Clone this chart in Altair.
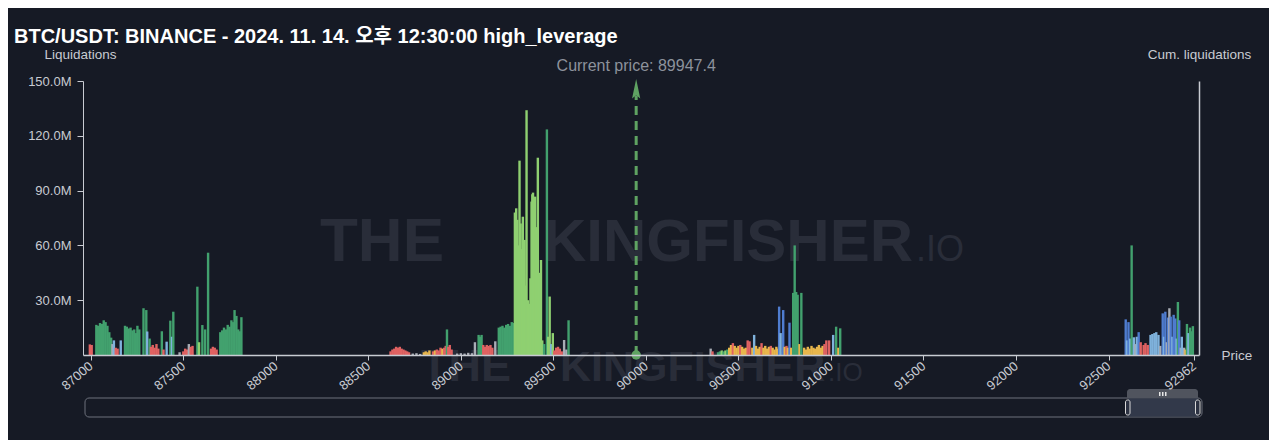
import altair as alt
import pandas as pd

TITLE = "BTC/USDT: BINANCE - 2024. 11. 14. 오후 12:30:00 high_leverage"
CURRENT_PRICE = 89947.4
X_TICKS = [87000, 87500, 88000, 88500, 89000, 89500, 90000, 90500, 91000,
           91500, 92000, 92500, 92962]
Y_TICKS = [30, 60, 90, 120, 150]          # millions
X_DOMAIN = [86985, 92962]
Y_DOMAIN = [0, 150]

KINDS = ["g", "lg", "r", "y", "b", "lb", "gr"]
KIND_COLORS = ["#42a16e", "#8fd071", "#e06262", "#e8b64c", "#4f7dd0", "#7fb2dc", "#a9adb5"]

# (price, liquidations in millions, kind)
left_cluster = [
    (86995, 5.8, "r"), (87005, 5.5, "r"), (87030, 16.5, "g"), (87040, 16.0, "g"),
    (87050, 17.5, "g"), (87060, 17.0, "g"), (87070, 19.0, "g"), (87080, 18.0, "g"),
    (87090, 16.0, "g"), (87100, 12.5, "g"), (87110, 9.5, "g"), (87117, 6.0, "gr"),
    (87125, 8.0, "lb"), (87135, 4.0, "r"), (87145, 3.5, "r"), (87162, 8.0, "lb"),
    (87185, 16.0, "g"), (87195, 15.5, "g"), (87205, 14.5, "g"), (87215, 15.0, "g"),
    (87225, 13.5, "g"), (87235, 14.0, "g"), (87245, 12.0, "g"), (87252, 16.0, "g"),
    (87262, 14.0, "g"), (87285, 25.6, "g"), (87300, 24.6, "g"), (87305, 12.8, "lb"),
    (87318, 9.0, "g"), (87325, 4.5, "r"), (87335, 5.5, "r"), (87345, 4.0, "r"),
    (87355, 6.0, "r"), (87365, 3.5, "r"), (87384, 13.0, "g"), (87393, 3.0, "r"),
    (87410, 7.3, "lb"), (87430, 18.8, "g"), (87439, 10.0, "lb"), (87446, 23.7, "g"),
    (87480, 1.5, "gr"), (87500, 2.0, "r"), (87510, 3.5, "r"), (87520, 3.0, "r"),
    (87530, 6.0, "gr"), (87540, 4.5, "r"), (87550, 5.0, "r"), (87576, 37.4, "g"),
    (87585, 7.0, "lg"), (87603, 16.4, "g"), (87618, 14.0, "g"), (87634, 56.0, "g"),
    (87650, 3.5, "r"), (87660, 4.5, "r"), (87670, 4.0, "r"), (87680, 3.0, "r"),
    (87700, 12.5, "g"), (87710, 13.5, "g"), (87720, 15.0, "g"), (87730, 14.0, "g"),
    (87740, 16.5, "g"), (87750, 15.5, "g"), (87760, 19.0, "g"), (87770, 18.0, "g"),
    (87777, 24.6, "g"), (87787, 21.4, "g"), (87797, 14.0, "g"), (87805, 13.0, "g"),
    (87814, 20.7, "g"),
]

mid_cluster = [
    (88620, 2.0, "r"), (88630, 3.0, "r"), (88640, 3.5, "r"), (88650, 4.5, "r"),
    (88660, 4.0, "r"), (88670, 4.5, "r"), (88680, 3.5, "r"), (88690, 3.0, "r"),
    (88700, 2.5, "r"), (88710, 2.0, "r"), (88720, 1.5, "r"), (88740, 0.8, "gr"),
    (88760, 1.0, "gr"), (88780, 0.6, "gr"), (88800, 1.5, "y"), (88810, 2.0, "y"),
    (88820, 1.5, "y"), (88830, 2.5, "y"), (88850, 2.0, "r"), (88860, 2.5, "y"),
    (88870, 3.0, "r"), (88880, 2.5, "r"), (88890, 4.0, "r"), (88900, 3.5, "y"),
    (88910, 4.0, "r"), (88918, 5.0, "r"), (88925, 14.0, "g"), (88932, 4.5, "r"),
    (88940, 5.5, "r"), (88950, 3.0, "r"), (88980, 0.8, "gr"), (89000, 1.0, "gr"),
    (89020, 0.8, "gr"), (89040, 1.2, "gr"), (89060, 1.0, "gr"), (89076, 7.0, "gr"),
    (89096, 11.0, "g"), (89104, 10.0, "g"), (89112, 11.0, "g"), (89121, 5.5, "r"),
    (89130, 4.5, "r"), (89140, 5.5, "r"), (89150, 5.0, "r"), (89160, 5.5, "r"),
    (89170, 4.0, "r"), (89186, 7.5, "gr"),
]

main_cluster = [
    (89205, 15.0, "g"), (89215, 15.5, "g"), (89225, 16.0, "g"), (89235, 15.0, "g"),
    (89245, 16.5, "g"), (89255, 17.0, "g"), (89265, 16.0, "g"), (89275, 18.0, "g"),
    (89285, 17.5, "g"), (89292, 78.0, "lg"), (89299, 80.3, "lg"), (89305, 74.0, "lg"),
    (89311, 60.0, "lg"), (89317, 106.4, "lg"), (89323, 72.0, "lg"), (89329, 58.0, "lg"),
    (89335, 75.7, "lg"), (89341, 44.0, "lg"), (89344, 63.0, "lg"), (89350, 38.0, "lg"),
    (89355, 134.0, "lg"), (89362, 30.0, "lg"), (89368, 28.0, "lg"), (89376, 42.0, "lg"),
    (89382, 84.0, "lg"), (89386, 88.0, "lg"), (89390, 88.9, "lg"), (89396, 80.0, "lg"),
    (89401, 86.7, "lg"), (89406, 70.0, "lg"), (89411, 66.0, "lg"), (89416, 108.0, "lg"),
    (89422, 45.0, "lg"), (89428, 30.0, "lg"), (89433, 52.0, "lg"), (89440, 8.0, "lg"),
    (89450, 6.0, "g"), (89465, 123.5, "g"), (89472, 10.0, "lg"), (89480, 32.0, "lg"),
    (89488, 6.0, "lb"), (89497, 12.0, "lg"), (89505, 2.5, "r"), (89515, 4.0, "r"),
    (89525, 4.5, "r"), (89535, 3.5, "r"), (89545, 2.0, "r"), (89558, 8.2, "gr"),
    (89570, 3.0, "gr"), (89582, 19.0, "g"),
]

right_mid_cluster = [
    (90350, 3.5, "gr"), (90360, 2.0, "r"), (90390, 1.5, "g"), (90400, 2.0, "g"),
    (90410, 2.5, "lg"), (90420, 2.0, "g"), (90430, 2.5, "lg"), (90440, 3.0, "g"),
    (90450, 4.0, "y"), (90460, 5.5, "y"), (90470, 6.5, "r"), (90480, 5.0, "y"),
    (90490, 4.0, "y"), (90500, 5.0, "y"), (90510, 5.5, "r"), (90520, 4.5, "y"),
    (90530, 3.5, "y"), (90540, 4.0, "y"), (90550, 8.0, "r"), (90560, 7.5, "r"),
    (90575, 4.0, "y"), (90585, 11.0, "lb"), (90595, 5.0, "y"), (90605, 3.5, "y"),
    (90615, 4.5, "y"), (90625, 6.5, "r"), (90635, 4.0, "y"), (90645, 5.0, "y"),
    (90655, 3.5, "y"), (90665, 4.5, "y"), (90675, 5.0, "r"), (90685, 4.0, "y"),
    (90695, 3.0, "y"), (90705, 4.5, "y"), (90713, 3.5, "y"), (90720, 26.5, "b"),
    (90728, 12.0, "lb"), (90742, 24.6, "b"), (90750, 4.5, "y"), (90760, 5.0, "r"),
    (90767, 4.0, "y"), (90776, 17.7, "b"), (90785, 4.0, "y"), (90796, 34.0, "g"),
    (90804, 60.0, "g"), (90812, 34.5, "g"), (90820, 33.0, "g"), (90830, 6.0, "y"),
    (90840, 34.0, "g"), (90855, 4.0, "y"), (90865, 3.0, "y"), (90875, 4.5, "y"),
    (90885, 3.5, "y"), (90895, 5.0, "y"), (90905, 4.0, "y"), (90915, 3.5, "y"),
    (90925, 4.5, "y"), (90935, 5.5, "y"), (90945, 4.0, "y"), (90955, 5.0, "y"),
    (90965, 6.0, "r"), (90975, 8.0, "r"), (90990, 8.0, "r"), (91012, 11.0, "lb"),
    (91028, 15.5, "g"), (91040, 4.0, "y"), (91050, 14.6, "g"),
]

far_right_cluster = [
    (92593, 19.5, "b"), (92600, 8.0, "lb"), (92608, 18.0, "b"), (92617, 9.0, "lb"),
    (92625, 60.0, "g"), (92637, 9.7, "lb"), (92645, 6.0, "gr"), (92653, 10.0, "lb"),
    (92663, 12.5, "b"), (92674, 7.0, "r"), (92690, 5.5, "r"), (92700, 6.5, "r"),
    (92712, 5.5, "r"), (92727, 11.0, "lb"), (92737, 11.5, "lb"), (92748, 12.0, "lb"),
    (92758, 12.5, "lb"), (92770, 11.0, "lb"), (92780, 5.0, "gr"), (92793, 22.8, "b"),
    (92800, 10.0, "lb"), (92807, 23.7, "b"), (92815, 7.0, "gr"), (92822, 20.5, "b"),
    (92829, 25.6, "gr"), (92836, 21.0, "b"), (92845, 10.0, "lb"), (92852, 22.0, "b"),
    (92861, 20.0, "b"), (92868, 9.0, "lb"), (92875, 29.0, "g"), (92882, 19.0, "b"),
    (92890, 4.0, "gr"), (92896, 10.0, "lb"), (92909, 4.0, "gr"), (92916, 3.0, "y"),
    (92924, 17.0, "g"), (92932, 12.0, "lb"), (92941, 15.0, "g"), (92948, 13.0, "g"),
    (92956, 15.8, "g"),
]

rows = left_cluster + mid_cluster + main_cluster + right_mid_cluster + far_right_cluster
bars_df = pd.DataFrame(rows, columns=["price", "liq", "kind"])

BG = "#161a25"
AXIS_C = "#c8cbd2"
FONT = "Liberation Sans, Arial, Noto Sans CJK KR"
WM_FONT = "Liberation Sans"
WM_C = "#292d39"

W, H = 1116, 274

xscale = alt.Scale(domain=X_DOMAIN, nice=False, zero=False)
yscale = alt.Scale(domain=Y_DOMAIN, nice=False)

x_axis = alt.Axis(values=X_TICKS, format="d", labelAngle=-40, labelAlign="right",
                  labelBaseline="middle", labelFontSize=13, labelColor=AXIS_C,
                  labelPadding=4, labelFont=FONT, tickSize=5, tickColor=AXIS_C,
                  domainColor=AXIS_C, domainWidth=1.5, grid=False, labelOverlap=False,
                  zindex=2,
                  title="Price", titleAngle=0, titleX=W + 22, titleY=0,
                  titleAlign="left", titleBaseline="middle", titleFontSize=13.5,
                  titleFontWeight="normal", titleColor=AXIS_C, titleFont=FONT)

y_axis = alt.Axis(values=Y_TICKS, labelExpr="format(datum.value, '.1f') + 'M'",
                  labelFontSize=13, labelColor=AXIS_C, labelFont=FONT, labelPadding=6,
                  tickSize=6, tickColor=AXIS_C, domainColor=AXIS_C, grid=False, zindex=2,
                  title="Liquidations", titleAngle=0, titleX=-3, titleY=-27,
                  titleAlign="center", titleBaseline="middle", titleFontSize=13.5,
                  titleFontWeight="normal", titleColor=AXIS_C, titleFont=FONT)

y_axis_right = alt.Axis(orient="right", labels=False, ticks=False, domainColor=AXIS_C,
                        domainWidth=1.5, grid=False, zindex=2, title="Cum. liquidations",
                        titleAngle=0, titleX=0, titleY=-27, titleAlign="center",
                        titleBaseline="middle", titleFontSize=13.5,
                        titleFontWeight="normal", titleColor=AXIS_C, titleFont=FONT)

def wm(text, x, y, size, weight="bold"):
    return alt.Chart(pd.DataFrame({"t": [text]})).mark_text(
        font=WM_FONT, fontSize=size, fontWeight=weight, color=WM_C,
        align="left", baseline="alphabetic"
    ).encode(text="t:N", x=alt.value(x), y=alt.value(y))

watermarks = [
    wm("THE", 237, 180, 62), wm("KINGFISHER", 460, 180, 60), wm(".IO", 833, 180, 36, "normal"),
    wm("THE", 338, 300, 45), wm("KINGFISHER", 477, 300, 43), wm(".IO", 745, 300, 26, "normal"),
]

bars = alt.Chart(bars_df).mark_bar(size=2.4).encode(
    x=alt.X("price:Q", scale=xscale, axis=x_axis),
    y=alt.Y("liq:Q", scale=yscale, axis=y_axis),
    color=alt.Color("kind:N", scale=alt.Scale(domain=KINDS, range=KIND_COLORS), legend=None),
)

right_axis = alt.Chart(pd.DataFrame({"liq": [0.0]})).mark_rule(opacity=0).encode(
    y=alt.Y("liq:Q", scale=yscale, axis=y_axis_right),
)

cp_df = pd.DataFrame({"price": [CURRENT_PRICE], "base": [0.0], "tip": [142.0],
                      "head": [145.5], "top": [150.0],
                      "label": [f"Current price: {CURRENT_PRICE}"]})
PRICE_GREEN = "#5fa362"

cp_line = alt.Chart(cp_df).mark_rule(color=PRICE_GREEN, strokeWidth=3, strokeDash=[9, 6]).encode(
    x=alt.X("price:Q", scale=xscale),
    y=alt.Y("base:Q", scale=yscale, axis=None),
    y2="tip:Q",
)
cp_head = alt.Chart(cp_df).mark_point(
    shape="M0,-1L0.4,0.9L0,0.6L-0.4,0.9Z", size=420, filled=True, color=PRICE_GREEN, opacity=1
).encode(x=alt.X("price:Q", scale=xscale), y=alt.Y("head:Q", scale=yscale, axis=None))
cp_dot = alt.Chart(cp_df).mark_circle(size=90, color=PRICE_GREEN, opacity=1).encode(
    x=alt.X("price:Q", scale=xscale), y=alt.Y("base:Q", scale=yscale, axis=None))
cp_text = alt.Chart(cp_df).mark_text(
    fontSize=16, font=FONT, color="#8d929c", dy=-15, baseline="middle", align="center"
).encode(x=alt.X("price:Q", scale=xscale), y=alt.Y("top:Q", scale=yscale, axis=None),
         text="label:N")

# data-zoom slider (UI decoration below the axis)
def rect(x1, x2, y1, y2, **kw):
    return alt.Chart(pd.DataFrame({"k": [0]})).mark_rect(**kw).encode(
        x=alt.value(x1), x2=alt.value(x2), y=alt.value(y1), y2=alt.value(y2))

slider = [
    rect(2, 1119, 317, 336, fill=BG, stroke="#6d717c", strokeWidth=1, cornerRadius=4),
    rect(1045, 1115, 317.5, 335.5, fill="#343b4c", opacity=0.95),
    rect(1044, 1115, 308, 317, fill="#50545e", cornerRadiusTopLeft=3, cornerRadiusTopRight=3),
    rect(1076, 1077.5, 311, 315, fill="#e6e6e6"),
    rect(1079, 1080.5, 311, 315, fill="#e6e6e6"),
    rect(1082, 1083.5, 311, 315, fill="#e6e6e6"),
    rect(1042.5, 1047, 319, 334, fill="#2c3242", stroke="#d8d8d8", strokeWidth=1, cornerRadius=2),
    rect(1112.5, 1117, 319, 334, fill="#2c3242", stroke="#d8d8d8", strokeWidth=1, cornerRadius=2),
]

chart = alt.layer(
    *watermarks, bars, right_axis, cp_line, cp_head, cp_dot, cp_text, *slider
).resolve_axis(y="independent").properties(
    width=W, height=H,
    title=alt.TitleParams(TITLE, anchor="start", frame="group", dx=-69, offset=0,
                          fontSize=20, fontWeight="bold", color="#ffffff", font=FONT),
    autosize=alt.AutoSizeParams(type="none"),
    padding={"left": 75, "top": 73, "right": 70, "bottom": 85},
).configure(background=BG).configure_view(stroke=None, fill=BG)

chart.save("out.html", embed_options={"renderer": "svg", "actions": False})
